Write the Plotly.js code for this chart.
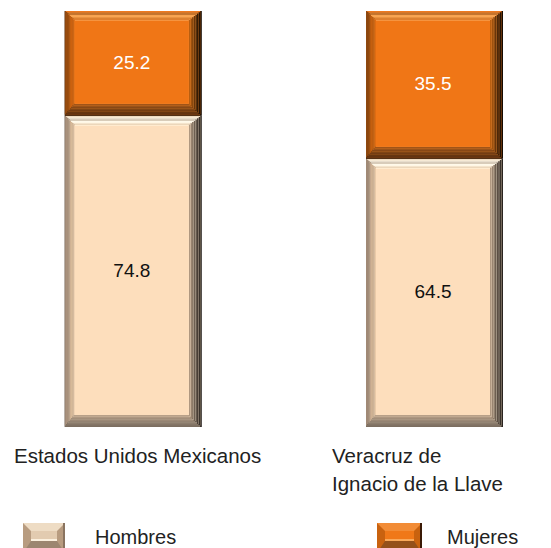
<!DOCTYPE html>
<html>
<head>
<meta charset="utf-8">
<script src="https://cdn.plot.ly/plotly-3.0.1.min.js"></script>
<style>html,body{margin:0;padding:0;background:#fff;}#chart{width:551px;height:548px;}</style>
</head>
<body>
<div id="chart"></div>
<script>
// ---- data ----
const categories = ['Estados Unidos Mexicanos', 'Veracruz de<br>Ignacio de la Llave'];
const seriesNames = ['Hombres', 'Mujeres'];
const hombres = [74.8, 64.5];
const mujeres = [25.2, 35.5];

// ---- geometry / style ----
const FONT = 'Liberation Sans, Arial, sans-serif';
const W = 551, H = 548;
const M = {l: 0, r: 0, t: 11, b: 121};
const plotH = H - M.t - M.b;
const pxX = 301.2;
const x0px = 133.3;
const xRange = [-x0px / pxX, (W - x0px) / pxX];
const barW = 137 / pxX;
const vy = 100 / plotH;
const xs = categories.map((c, i) => i);

const N = 8;
const bevel = {l: 10, r: 13, b: 12, t: 10};
const ins = w => Array.from({length: N + 1}, (_, k) => w * k / N);
const dL = ins(bevel.l), dR = ins(bevel.r), dB = ins(bevel.b), dT = ins(bevel.t);

function hex2rgb(h) { return [1, 3, 5].map(i => parseInt(h.substr(i, 2), 16)); }
function grad(stops) {
  const out = [];
  for (let k = 0; k < N; k++) {
    const t = k / (N - 1) * (stops.length - 1);
    const i = Math.min(Math.floor(t), stops.length - 2), f = t - i;
    const a = hex2rgb(stops[i]), b = hex2rgb(stops[i + 1]);
    out.push('rgb(' + a.map((v, j) => Math.round(v + (b[j] - v) * f)).join(',') + ')');
  }
  return out;
}

const mujPal = {face: '#F07616',
  top: grad(['#EE7A20', '#F7A04C', '#F9A855', '#F59440']),
  left: grad(['#8E4810', '#B0560E', '#CC620F', '#E06C12']),
  right: grad(['#140A02', '#3A1E06', '#7A400C', '#B85E10']),
  bottom: grad(['#5A3010', '#6E3A12', '#844616', '#A05418'])};
const homPal = {face: '#FDDEBC',
  top: grad(['#F0DCC2', '#FFFCF0', '#FFF8E8', '#FFEFD6']),
  left: grad(['#A08A76', '#BCA088', '#D6B898', '#EACAA8']),
  right: grad(['#2A2420', '#4E443A', '#7A6A5A', '#B09880']),
  bottom: grad(['#7C6E60', '#8E7E6E', '#A08C78', '#B8A088'])};

function rect(bases, heights, l, r, b, t, color, name) {
  return {
    type: 'bar', x: xs, name: name,
    y: heights.map(h => h - (b + t) * vy),
    base: bases.map(b0 => b0 + b * vy),
    width: barW - (l + r) / pxX,
    offset: -barW / 2 + l / pxX,
    marker: {color: color, line: {width: 0}},
    hoverinfo: 'skip', showlegend: false
  };
}

function segment(bases, heights, pal, name, textColor) {
  const out = [];
  for (let k = 0; k < N; k++) {
    out.push(rect(bases, heights, dL[k], dR[k], dB[k], dT[k], pal.right[k], name));
    out.push(rect(bases, heights, dL[k], dR[k + 1], dB[k], dT[k], pal.bottom[k], name));
    out.push(rect(bases, heights, dL[k], dR[k + 1], dB[k + 1], dT[k], pal.left[k], name));
    out.push(rect(bases, heights, dL[k + 1], dR[k + 1], dB[k + 1], dT[k], pal.top[k], name));
  }
  const face = rect(bases, heights, dL[N], dR[N], dB[N], dT[N], pal.face, name);
  face.text = heights.map(v => v.toFixed(1));
  face.textposition = 'inside';
  face.insidetextanchor = 'middle';
  face.textangle = 0;
  face.constraintext = 'none';
  face.textfont = {family: FONT, size: 19, color: textColor};
  out.push(face);
  return out;
}

const traces = [].concat(
  segment(hombres.map(() => 0), hombres, homPal, seriesNames[0], '#111111'),
  segment(hombres, mujeres, mujPal, seriesNames[1], '#FFFFFF')
);

// pixel -> paper helpers
const px = x => (x - M.l) / (W - M.l - M.r);
const py = y => (H - M.b - y) / plotH;
function poly(pts, color) {
  return {type: 'path', xref: 'paper', yref: 'paper', layer: 'above',
    path: 'M' + pts.map(p => px(p[0]) + ',' + py(p[1])).join('L') + 'Z',
    fillcolor: color, line: {width: 0}};
}
function swatch(x1, y1, x2, y2, c) {
  const e = 8, mid = (y1 + y2) / 2;
  return [
    poly([[x1, y1], [x2, y1], [x2, y2], [x1, y2]], c.side),
    poly([[x1, y1], [x2, y1], [x2 - e, y1 + e], [x1 + e, y1 + e]], c.top),
    poly([[x1 + e, y1 + e], [x2 - e, y1 + e], [x2 - e, mid + 1], [x1 + e, mid + 1]], c.upper),
    poly([[x1 + e, mid + 1], [x2 - e, mid + 1], [x2 - e, mid + 3], [x1 + e, mid + 3]], c.line),
    poly([[x1 + e, mid + 3], [x2 - e, mid + 3], [x2, y2], [x1, y2]], c.bottom),
    poly([[x2 - 2, y1], [x2, y1], [x2, y2], [x2 - 2, y2]], c.edge)
  ];
}
const shapes = [].concat(
  swatch(23, 523, 65, 553, {side: '#B89C80', top: '#EEDCC4', upper: '#E2CBB0', line: '#FBF0DE', bottom: '#9C8670', edge: '#8A7460'}),
  swatch(377, 523, 422, 553, {side: '#C9620F', top: '#F28C36', upper: '#F07818', line: '#F9A95A', bottom: '#94501A', edge: '#3A1A06'})
);

const labelLeft = [12, 330];
const legendLeft = [93, 445];
const annotations = [];
categories.forEach((c, i) => {
  c.split('<br>').forEach((line, j) => {
    annotations.push({xref: 'paper', yref: 'paper', x: px(labelLeft[i]), y: py(455 + 28 * j), xanchor: 'left', yanchor: 'middle',
      align: 'left', showarrow: false, text: line, font: {family: FONT, size: 20.5, color: '#222222'}});
  });
});
seriesNames.forEach((s, i) => {
  annotations.push({xref: 'paper', yref: 'paper', x: px(legendLeft[i]), y: py(537), xanchor: 'left', yanchor: 'middle',
    showarrow: false, text: s, font: {family: FONT, size: 20, color: '#222222'}});
});

const layout = {
  width: W, height: H, margin: M,
  paper_bgcolor: '#FFFFFF', plot_bgcolor: '#FFFFFF',
  barmode: 'overlay', showlegend: false,
  xaxis: {range: xRange, showgrid: false, zeroline: false, showticklabels: false, showline: false, fixedrange: true},
  yaxis: {range: [0, 100], showgrid: false, zeroline: false, showticklabels: false, showline: false, fixedrange: true},
  shapes: shapes, annotations: annotations
};
Plotly.newPlot('chart', traces, layout, {staticPlot: true, displayModeBar: false});
</script>
</body>
</html>
